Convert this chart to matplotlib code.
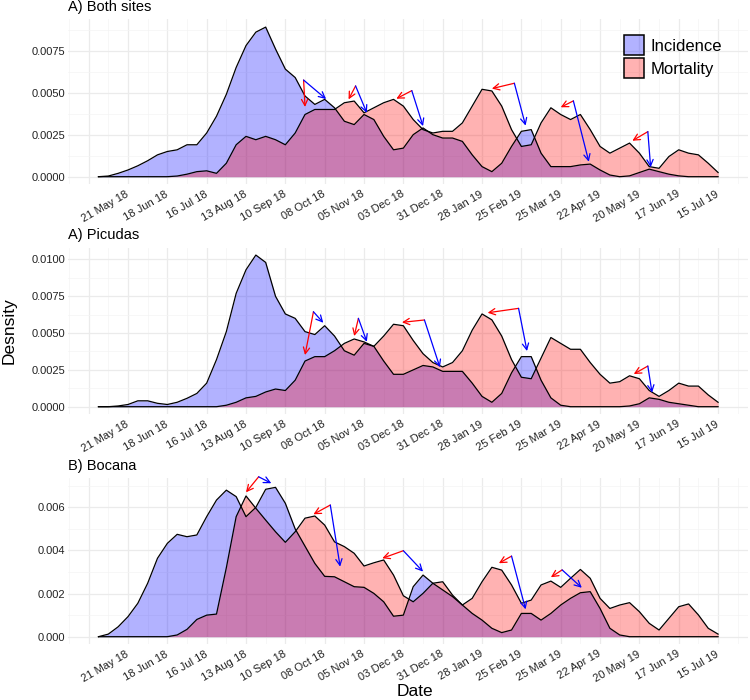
import matplotlib
matplotlib.use("Agg")
import matplotlib.pyplot as plt
import matplotlib.dates as mdates
import pandas as pd
from matplotlib.patches import Patch
from matplotlib.ticker import FixedLocator, FuncFormatter

plt.rcParams["font.family"] = ["Liberation Sans", "DejaVu Sans"]

# weekly sample points, 30 Apr 18 .. 15 Jul 19
weeks = pd.date_range("2018-04-30", "2019-07-15", freq="7D")
tick_dates = pd.date_range("2018-05-21", "2019-07-15", freq="28D")
tick_labels = [d.strftime("%d %b %y") for d in tick_dates]
minor_dates = pd.date_range("2018-04-09", "2019-07-29", freq="28D")

# densities
both_inc = [0, 0.00004, 0.0002, 0.0004, 0.00065, 0.00095, 0.0013, 0.0015, 0.0016, 0.0019,
            0.0019, 0.0026, 0.0036, 0.0049, 0.0065, 0.0078, 0.0086, 0.0089, 0.0076, 0.0064,
            0.0059, 0.0048, 0.0043, 0.0046, 0.0041, 0.0033, 0.0031, 0.0037, 0.0034, 0.0024,
            0.0016, 0.0017, 0.0025, 0.0029, 0.0025, 0.0023, 0.0023, 0.0021, 0.0013, 0.0006,
            0.0003, 0.0008, 0.0018, 0.0027, 0.0028, 0.0014, 0.0006, 0.0006, 0.0006, 0.0007,
            0.00075, 0.0004, 0.0001, 0.0, 0.00005, 0.00025, 0.00045, 0.0003, 0.00015, 0.00005,
            0, 0, 0, 0]
both_mort = [0, 0, 0, 0, 0, 0, 0, 0, 0.00004, 0.00015,
             0.0003, 0.00035, 0.0002, 0.0008, 0.0019, 0.0024, 0.0022, 0.0024, 0.0022, 0.0019,
             0.0026, 0.0037, 0.0040, 0.0040, 0.0040, 0.0044, 0.0045, 0.0038, 0.0041, 0.0044,
             0.0046, 0.0042, 0.0034, 0.0028, 0.0026, 0.0027, 0.0027, 0.0032, 0.0042, 0.0052,
             0.0051, 0.0042, 0.0028, 0.0018, 0.0019, 0.0032, 0.0041, 0.0037, 0.0034, 0.0037,
             0.0028, 0.0018, 0.0014, 0.0017, 0.0020, 0.0014, 0.0006, 0.0005, 0.0012, 0.0016,
             0.0014, 0.0013, 0.0008, 0.00025]

pic_inc = [0, 0, 0.00005, 0.00015, 0.0004, 0.0004, 0.00023, 0.00015, 0.0003, 0.00057,
           0.0009, 0.0016, 0.0032, 0.0051, 0.0077, 0.0093, 0.0103, 0.0098, 0.0075, 0.0063,
           0.0060, 0.0051, 0.0049, 0.0055, 0.0048, 0.0038, 0.0035, 0.0043, 0.0041, 0.0031,
           0.0022, 0.0022, 0.0025, 0.0028, 0.0027, 0.0024, 0.0024, 0.0024, 0.0016, 0.0007,
           0.0003, 0.0009, 0.0023, 0.0034, 0.0034, 0.0018, 0.0006, 0.0001, 0, 0,
           0, 0, 0, 0, 0.00005, 0.0002, 0.0006, 0.0005, 0.0003, 0.0002,
           0.0001, 0, 0, 0]
pic_mort = [0, 0, 0, 0, 0, 0, 0, 0, 0, 0,
            0, 0, 0, 0.0001, 0.0003, 0.0006, 0.0007, 0.0010, 0.0012, 0.0011,
            0.0018, 0.0031, 0.0034, 0.0034, 0.0038, 0.0043, 0.0046, 0.0044, 0.0041, 0.0048,
            0.0056, 0.0055, 0.0045, 0.0036, 0.0030, 0.0027, 0.0030, 0.0038, 0.0052, 0.0063,
            0.0059, 0.0048, 0.0032, 0.0020, 0.0019, 0.0033, 0.0047, 0.0043, 0.0039, 0.0039,
            0.0030, 0.0022, 0.0016, 0.0017, 0.0021, 0.0019, 0.0011, 0.0007, 0.0011, 0.0016,
            0.0014, 0.0014, 0.0008, 0.0003]

boc_inc = [0, 0.00012, 0.00046, 0.00093, 0.00155, 0.00248, 0.00364, 0.00433, 0.00475, 0.00464,
           0.00472, 0.00557, 0.00634, 0.0068, 0.0065, 0.00557, 0.0060, 0.00684, 0.00693, 0.00619,
           0.0050, 0.0042, 0.0034, 0.0028, 0.00278, 0.00255, 0.00232, 0.00229, 0.00201, 0.00162,
           0.00095, 0.0010, 0.00232, 0.00286, 0.00248, 0.00217, 0.00186, 0.00147, 0.00108, 0.00077,
           0.00039, 0.00019, 0.00031, 0.00108, 0.00108, 0.00077, 0.00108, 0.00147, 0.00178, 0.00204,
           0.00209, 0.00131, 0.00039, 0.00008, 0, 0, 0, 0, 0, 0,
           0, 0, 0, 0]
boc_mort = [0, 0, 0, 0, 0, 0, 0, 0, 0.00008, 0.00034,
            0.0008, 0.0010, 0.00105, 0.0032, 0.00557, 0.00653, 0.00596, 0.00541, 0.00487, 0.00438,
            0.00487, 0.0055, 0.0056, 0.00518, 0.0044, 0.00418, 0.00387, 0.00328, 0.00343, 0.00356,
            0.00286, 0.0019, 0.00162, 0.00201, 0.00248, 0.00255, 0.00193, 0.00147, 0.00178, 0.00255,
            0.00322, 0.00309, 0.0024, 0.00155, 0.0017, 0.0024, 0.00258, 0.00229, 0.00271, 0.00312,
            0.00271, 0.00178, 0.00131, 0.00147, 0.00158, 0.00116, 0.00062, 0.00031, 0.00085, 0.00139,
            0.00152, 0.00101, 0.00039, 0.00012]

# arrows: common start point, red tip (mortality peak), blue tip (incidence peak)
both_arr_from = ["2018-09-23", "2018-10-30", "2018-12-09", "2019-02-20", "2019-04-03", "2019-05-26"]
both_arr_from_y = [0.00575, 0.0054, 0.00512, 0.00556, 0.00451, 0.00268]
both_red_to = ["2018-09-24", "2018-10-25", "2018-11-28", "2019-02-04", "2019-03-25", "2019-05-15"]
both_red_to_y = [0.00415, 0.0046, 0.00464, 0.00524, 0.00413, 0.00214]
both_blue_to = ["2018-10-09", "2018-11-07", "2018-12-17", "2019-02-28", "2019-04-14", "2019-05-28"]
both_blue_to_y = [0.00462, 0.0038, 0.00301, 0.00304, 0.00089, 0.00056]

pic_arr_from = ["2018-09-30", "2018-11-01", "2018-12-18", "2019-02-23", "2019-05-26"]
pic_arr_from_y = [0.00645, 0.0060, 0.00589, 0.00668, 0.00276]
pic_red_to = ["2018-09-24", "2018-10-29", "2018-12-02", "2019-02-01", "2019-05-16"]
pic_red_to_y = [0.00351, 0.0048, 0.00573, 0.00638, 0.00222]
pic_blue_to = ["2018-10-07", "2018-11-07", "2018-12-29", "2019-03-01", "2019-05-29"]
pic_blue_to_y = [0.0057, 0.00441, 0.00268, 0.00378, 0.00095]

boc_arr_from = ["2018-08-22", "2018-10-12", "2018-12-03", "2019-02-18", "2019-03-26"]
boc_arr_from_y = [0.00742, 0.00611, 0.00399, 0.00374, 0.0031]
boc_red_to = ["2018-08-13", "2018-09-30", "2018-11-18", "2019-02-09", "2019-03-18"]
boc_red_to_y = [0.0067, 0.00568, 0.00364, 0.00341, 0.00276]
boc_blue_to = ["2018-08-31", "2018-10-19", "2018-12-17", "2019-02-28", "2019-04-09"]
boc_blue_to_y = [0.00712, 0.00325, 0.00302, 0.00127, 0.00227]

fig = plt.figure(figsize=(7.5, 7), dpi=100)
W, H = 750, 700
x0 = pd.Timestamp("2018-04-30") - pd.Timedelta(days=21.7)
x1 = pd.Timestamp("2018-04-30") + pd.Timedelta(days=462.3)


def panel(top_px, bottom_px, title, title_px, inc, mort, ylim, yticks, yminor, ndec,
          a_from, a_from_y, r_to, r_to_y, b_to, b_to_y):
    ax = fig.add_axes([68 / W, 1 - bottom_px / H, 680 / W, (bottom_px - top_px) / H])
    ax.fill_between(weeks, 0, inc, color="blue", alpha=0.3, lw=0)
    ax.plot(weeks, inc, color="black", lw=0.9, solid_joinstyle="round")
    ax.fill_between(weeks, 0, mort, color="red", alpha=0.3, lw=0)
    ax.plot(weeks, mort, color="black", lw=0.9, solid_joinstyle="round")
    for f, fy, r, ry, b, by in zip(a_from, a_from_y, r_to, r_to_y, b_to, b_to_y):
        f = pd.Timestamp(f)
        for tip, tipy, col in ((pd.Timestamp(r), ry, "red"), (pd.Timestamp(b), by, "blue")):
            ax.annotate("", xy=(tip, tipy), xytext=(f, fy),
                        arrowprops=dict(arrowstyle="->,head_length=0.5,head_width=0.25",
                                        color=col, lw=0.9, shrinkA=0, shrinkB=0,
                                        mutation_scale=9))
    ax.set_xlim(x0, x1)
    ax.set_ylim(*ylim)
    ax.set_xticks(tick_dates)
    ax.set_xticklabels(tick_labels, rotation=30, ha="right", va="center",
                       rotation_mode="anchor", fontsize=8, color="#222222")
    ax.xaxis.set_minor_locator(FixedLocator(mdates.date2num(minor_dates)))
    ax.set_yticks(yticks)
    ax.yaxis.set_minor_locator(FixedLocator(yminor))
    ax.yaxis.set_major_formatter(FuncFormatter(lambda v, p: f"{v:.{ndec}f}"))
    ax.tick_params(axis="y", labelsize=8, labelcolor="#222222", pad=2)
    ax.tick_params(axis="x", pad=6.5)
    ax.tick_params(which="both", length=0)
    ax.grid(which="major", color="#ebebeb", lw=0.9)
    ax.grid(which="minor", color="#f4f4f4", lw=0.5)
    ax.axvline(pd.Timestamp("2018-04-23"), color="#ebebeb", lw=0.9, zorder=0)
    ax.set_axisbelow(True)
    for s in ax.spines.values():
        s.set_visible(False)
    fig.text(68 / W, 1 - title_px / H, title, fontsize=10.5, ha="left", va="center")
    return ax


ax1 = panel(18.7, 184.3, "A) Both sites", 7, both_inc, both_mort,
            (-0.000452, 0.0094), [0, 0.0025, 0.005, 0.0075],
            [0.00125, 0.00375, 0.00625, 0.00875], 4,
            both_arr_from, both_arr_from_y, both_red_to, both_red_to_y,
            both_blue_to, both_blue_to_y)
ax2 = panel(247.7, 414.3, "A) Picudas", 235.5, pic_inc, pic_mort,
            (-0.000516, 0.0108), [0, 0.0025, 0.005, 0.0075, 0.01],
            [0.00125, 0.00375, 0.00625, 0.00875], 4,
            pic_arr_from, pic_arr_from_y, pic_red_to, pic_red_to_y,
            pic_blue_to, pic_blue_to_y)
ax3 = panel(478.3, 644.2, "B) Bocana", 466, boc_inc, boc_mort,
            (-0.000348, 0.00735), [0, 0.002, 0.004, 0.006],
            [0.001, 0.003, 0.005, 0.007], 3,
            boc_arr_from, boc_arr_from_y, boc_red_to, boc_red_to_y,
            boc_blue_to, boc_blue_to_y)

handles = [Patch(facecolor=(0, 0, 1, 0.3), edgecolor="black", lw=1.1),
           Patch(facecolor=(1, 0, 0, 0.3), edgecolor="black", lw=1.1)]
ax1.legend(handles, ["Incidence", "Mortality"], loc="upper left",
           bbox_to_anchor=(624 / W, 1 - 35 / H), bbox_transform=fig.transFigure,
           frameon=False, fontsize=12, handlelength=1.2, handleheight=1.47,
           labelspacing=0.2, handletextpad=0.38, borderpad=0, borderaxespad=0)

fig.text(9 / W, 1 - 331 / H, "Desnsity", rotation=90, fontsize=12.5, ha="center", va="center")
fig.text(415 / W, 1 - 691 / H, "Date", fontsize=12.5, ha="center", va="center")

fig.savefig("out.png", dpi=100)
